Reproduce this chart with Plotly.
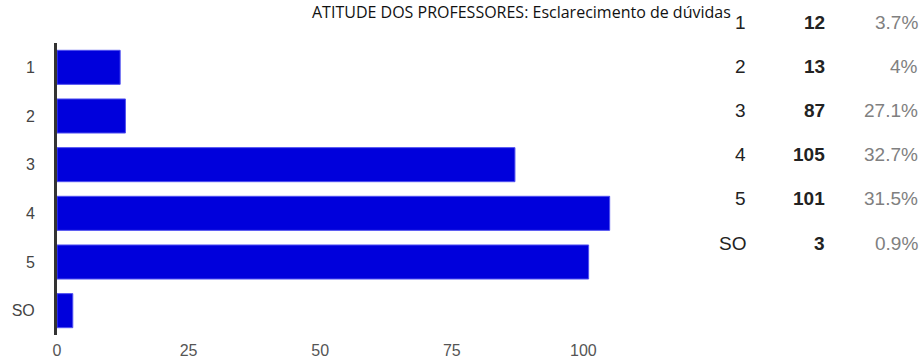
import plotly.graph_objects as go

categories = ["1", "2", "3", "4", "5", "SO"]
counts = [12, 13, 87, 105, 101, 3]
percent_labels = ["3.7%", "4%", "27.1%", "32.7%", "31.5%", "0.9%"]
x_ticks = [0, 25, 50, 75, 100]
title_text = "ATITUDE DOS PROFESSORES: Esclarecimento de dúvidas"

W, H = 921, 362
L, R, T, B = 57, 285, 43, 27
pw = W - L - R
ph = H - T - B

def px_to_paper_x(px):
    return (px - L) / pw

def px_to_paper_y(py):
    return (H - B - py) / ph

fig = go.Figure()
fig.add_trace(go.Bar(
    y=categories, x=counts, orientation="h",
    marker=dict(color="#0000dc", line=dict(color="#5050f0", width=1)),
    hoverinfo="x+y",
))

annotations = []
annotations.append(dict(
    text=title_text, xref="paper", yref="paper",
    x=px_to_paper_x(521), y=px_to_paper_y(0), xanchor="center", yanchor="top",
    showarrow=False, borderpad=0,
    font=dict(family="Open Sans, Liberation Sans, Arial", size=16, color="#111"),
))

row_y0, row_step = 22, 44.2
tf = "Liberation Sans, Arial"
for i, (c, n, p) in enumerate(zip(categories, counts, percent_labels)):
    yy = px_to_paper_y(row_y0 + i * row_step)
    annotations.append(dict(text=c, xref="paper", yref="paper", x=px_to_paper_x(748), y=yy,
                            xanchor="right", yanchor="middle", showarrow=False,
                            font=dict(family=tf, size=19, color="#222")))
    annotations.append(dict(text="<b>%d</b>" % n, xref="paper", yref="paper", x=px_to_paper_x(827), y=yy,
                            xanchor="right", yanchor="middle", showarrow=False,
                            font=dict(family=tf, size=19, color="#222")))
    annotations.append(dict(text=p, xref="paper", yref="paper", x=px_to_paper_x(920), y=yy,
                            xanchor="right", yanchor="middle", showarrow=False,
                            font=dict(family=tf, size=19, color="#808080")))

fig.update_layout(
    width=W, height=H,
    margin=dict(l=L, r=R, t=T, b=B, pad=0),
    paper_bgcolor="white", plot_bgcolor="white",
    showlegend=False,
    bargap=0.3,
    annotations=annotations,
    xaxis=dict(range=[0, 110], tickvals=x_ticks, showgrid=False, zeroline=False,
               showline=False, ticks="", automargin=False,
               tickfont=dict(family=tf, size=16, color="#555"),
               ticklabelstandoff=4),
    yaxis=dict(autorange="reversed", showgrid=False, zeroline=False,
               showline=True, linecolor="#333", linewidth=3, ticks="", automargin=False,
               tickfont=dict(family=tf, size=16, color="#444"),
               ticklabelstandoff=16),
)

fig.write_html("out.html", config={"displayModeBar": False},
               post_script="document.body.style.margin='0px';")
